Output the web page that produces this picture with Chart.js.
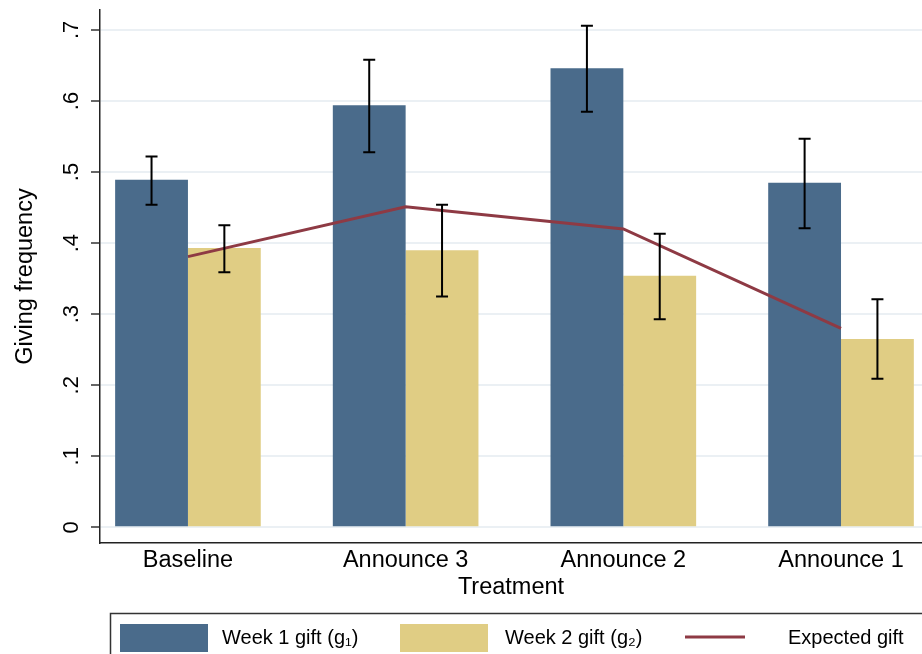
<!DOCTYPE html>
<html>
<head>
<meta charset="utf-8">
<script src="https://cdn.jsdelivr.net/npm/chart.js@4/dist/chart.umd.min.js"></script>
<style>
  html, body { margin: 0; padding: 0; background: #fff; }
  #wrap { width: 922px; height: 654px; }
</style>
</head>
<body>
<div id="wrap"><canvas id="giftChart" width="922" height="654"></canvas></div>
<script>
// 数据
const treatments = ['Baseline', 'Announce 3', 'Announce 2', 'Announce 1'];
const treatmentPos = [1, 2, 3, 4];
const week1Gift = [0.489, 0.594, 0.646, 0.485];
const week1Lo = [0.454, 0.528, 0.585, 0.421];
const week1Hi = [0.522, 0.658, 0.706, 0.547];
const week2Gift = [0.393, 0.390, 0.354, 0.265];
const week2Lo = [0.359, 0.325, 0.293, 0.209];
const week2Hi = [0.425, 0.454, 0.413, 0.321];
const expectedGift = [0.381, 0.451, 0.420, 0.280];
const yTickValues = [0, 0.1, 0.2, 0.3, 0.4, 0.5, 0.6, 0.7];
const yTickLabels = ['0', '.1', '.2', '.3', '.4', '.5', '.6', '.7'];

const FONT = '"Liberation Sans", Arial, sans-serif';

function toPoints(values) {
    return values.map((v, i) => ({ x: treatmentPos[i], y: v }));
}

// 误差线
const errorBars = {
    id: 'errorBars',
    afterDatasetsDraw(chart) {
        const ctx = chart.ctx;
        const yScale = chart.scales.y;
        chart.data.datasets.forEach((ds, i) => {
            if (!ds.errLo) return;
            const meta = chart.getDatasetMeta(i);
            meta.data.forEach((bar, j) => {
                const top = yScale.getPixelForValue(ds.errHi[j]);
                const bot = yScale.getPixelForValue(ds.errLo[j]);
                ctx.save();
                ctx.strokeStyle = '#000';
                ctx.lineWidth = 2;
                ctx.beginPath();
                ctx.moveTo(bar.x, top); ctx.lineTo(bar.x, bot);
                ctx.moveTo(bar.x - 6, top); ctx.lineTo(bar.x + 6, top);
                ctx.moveTo(bar.x - 6, bot); ctx.lineTo(bar.x + 6, bot);
                ctx.stroke();
                ctx.restore();
            });
        });
    }
};

// 底部带框图例
const boxLegend = {
    id: 'boxLegend',
    afterDraw(chart) {
        const ctx = chart.ctx;
        const top = 613;
        const swatchX = [120, 400, 685];
        const textX = [222, 505, 788];
        ctx.save();
        ctx.strokeStyle = '#333';
        ctx.lineWidth = 1.5;
        ctx.strokeRect(110.5, top + 0.5, 830, 60);
        ctx.font = '20px ' + FONT;
        ctx.textBaseline = 'middle';
        ctx.fillStyle = '#000';
        chart.data.datasets.forEach((ds, i) => {
            if (ds.type === 'line') {
                ctx.strokeStyle = ds.borderColor;
                ctx.lineWidth = 3;
                ctx.beginPath();
                ctx.moveTo(swatchX[i], top + 24);
                ctx.lineTo(swatchX[i] + 60, top + 24);
                ctx.stroke();
            } else {
                ctx.fillStyle = ds.backgroundColor;
                ctx.fillRect(swatchX[i], top + 11, 88, 28);
            }
            ctx.fillStyle = '#000';
            ctx.fillText(ds.label, textX[i], top + 25);
        });
        ctx.restore();
    }
};

new Chart(document.getElementById('giftChart').getContext('2d'), {
    data: {
        datasets: [
            {
                type: 'bar',
                label: 'Week 1 gift (g\u2081)',
                data: toPoints(week1Gift),
                errLo: week1Lo,
                errHi: week1Hi,
                backgroundColor: '#4a6b8b',
                order: 1
            },
            {
                type: 'bar',
                label: 'Week 2 gift (g\u2082)',
                data: toPoints(week2Gift),
                errLo: week2Lo,
                errHi: week2Hi,
                backgroundColor: '#e0cd84',
                order: 1
            },
            {
                type: 'line',
                label: 'Expected gift',
                data: toPoints(expectedGift),
                borderColor: '#8e3a44',
                borderWidth: 3,
                pointRadius: 0,
                tension: 0,
                order: 0
            }
        ]
    },
    options: {
        responsive: false,
        animation: false,
        categoryPercentage: 0.669,
        barPercentage: 1.0,
        layout: { padding: { top: 10, right: 0, bottom: 44, left: 0 } },
        plugins: {
            legend: { display: false },
            tooltip: { enabled: false }
        },
        scales: {
            x: {
                type: 'linear',
                offset: false,
                min: 0.596,
                max: 4.372,
                afterBuildTicks(scale) {
                    scale.ticks = treatmentPos.map(v => ({ value: v }));
                },
                afterFit(scale) {
                    scale.height = 67;
                    scale.paddingLeft = 0;
                    scale.paddingRight = 0;
                },
                grid: { display: false, drawTicks: false },
                border: { display: true, color: '#222', width: 1.5 },
                ticks: {
                    padding: 3,
                    color: '#000',
                    font: { family: FONT, size: 23.5 },
                    maxRotation: 0,
                    autoSkip: false,
                    callback: (v) => treatments[treatmentPos.indexOf(v)] || ''
                },
                title: {
                    display: true,
                    text: 'Treatment',
                    color: '#000',
                    font: { family: FONT, size: 23.5 },
                    padding: { top: 0, bottom: 8 }
                }
            },
            y: {
                min: -0.022,
                max: 0.728,
                afterBuildTicks(scale) {
                    scale.ticks = yTickValues.map(v => ({ value: v }));
                },
                afterFit(scale) {
                    scale.width = 100;
                    scale.paddingTop = 0;
                    scale.paddingBottom = 0;
                },
                grid: {
                    color: '#ebf0f4',
                    lineWidth: 2,
                    drawTicks: true,
                    tickLength: 9,
                    tickColor: '#333',
                    tickWidth: 1.5
                },
                border: { display: true, color: '#222', width: 1.5 },
                ticks: {
                    minRotation: 90,
                    maxRotation: 90,
                    crossAlign: 'center',
                    padding: 10,
                    color: '#000',
                    font: { family: FONT, size: 22 },
                    callback: (v) => {
                        const k = yTickValues.findIndex(t => Math.abs(t - v) < 1e-9);
                        return k >= 0 ? yTickLabels[k] : '';
                    }
                },
                title: {
                    display: true,
                    text: 'Giving frequency',
                    color: '#000',
                    font: { family: FONT, size: 23.5 },
                    padding: { top: 11, bottom: 0 }
                }
            }
        }
    },
    plugins: [errorBars, boxLegend]
});
</script>
</body>
</html>
